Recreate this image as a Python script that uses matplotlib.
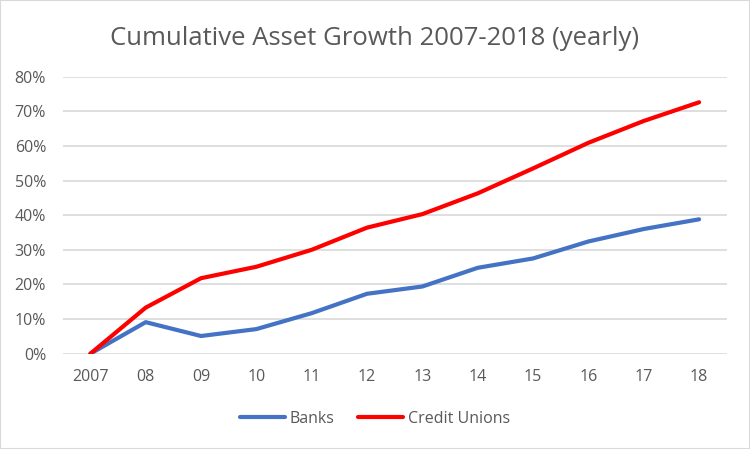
import numpy as np
import matplotlib.pyplot as plt
from matplotlib.ticker import PercentFormatter

years = ['2007', '08', '09', '10', '11', '12', '13', '14', '15', '16', '17', '18']
banks = [0.0, 9.1, 5.1, 7.1, 11.7, 17.3, 19.4, 24.8, 27.5, 32.4, 36.0, 38.8]
credit_unions = [0.0, 13.3, 21.8, 25.1, 30.0, 36.4, 40.3, 46.3, 53.5, 60.9, 67.2, 72.6]

plt.rcParams['font.family'] = ['Open Sans', 'DejaVu Sans']
txt = '#595959'

fig = plt.figure(figsize=(7.5, 4.49), dpi=100)
fig.patches.append(plt.Rectangle((0, 0), 1, 1, transform=fig.transFigure,
                                 fill=False, edgecolor='#d9d9d9', lw=1.5))
ax = fig.add_axes([0.0836, 0.2123, 0.8854, 0.6170])

x = np.arange(len(years))
ax.plot(x, np.array(banks) / 100, color='#4472C4', lw=3, label='Banks',
        solid_capstyle='round', solid_joinstyle='round')
ax.plot(x, np.array(credit_unions) / 100, color='#FF0000', lw=3, label='Credit Unions',
        solid_capstyle='round', solid_joinstyle='round')

ax.set_xlim(-0.5, len(years) - 0.5)
ax.set_ylim(0, 0.8)
ax.set_yticks(np.arange(0, 0.81, 0.1))
ax.yaxis.set_major_formatter(PercentFormatter(1.0, decimals=0))
ax.set_xticks(x)
ax.set_xticklabels(years)
ax.tick_params(length=0, labelsize=11.5, colors=txt)
ax.tick_params(axis='x', pad=11)
ax.tick_params(axis='y', pad=12)
ax.grid(axis='y', color='#d9d9d9', lw=1.2)
ax.set_axisbelow(True)
for s in ax.spines.values():
    s.set_visible(False)

fig.suptitle('Cumulative Asset Growth 2007-2018 (yearly)', fontsize=18.5, color=txt,
             y=0.915, va='center')
fig.legend(loc='center', bbox_to_anchor=(0.5, 0.067), ncol=2, frameon=False,
           fontsize=11.5, labelcolor=txt, handlelength=2.8, handletextpad=0.3,
           columnspacing=1.5)

fig.savefig('out.png', dpi=100)
